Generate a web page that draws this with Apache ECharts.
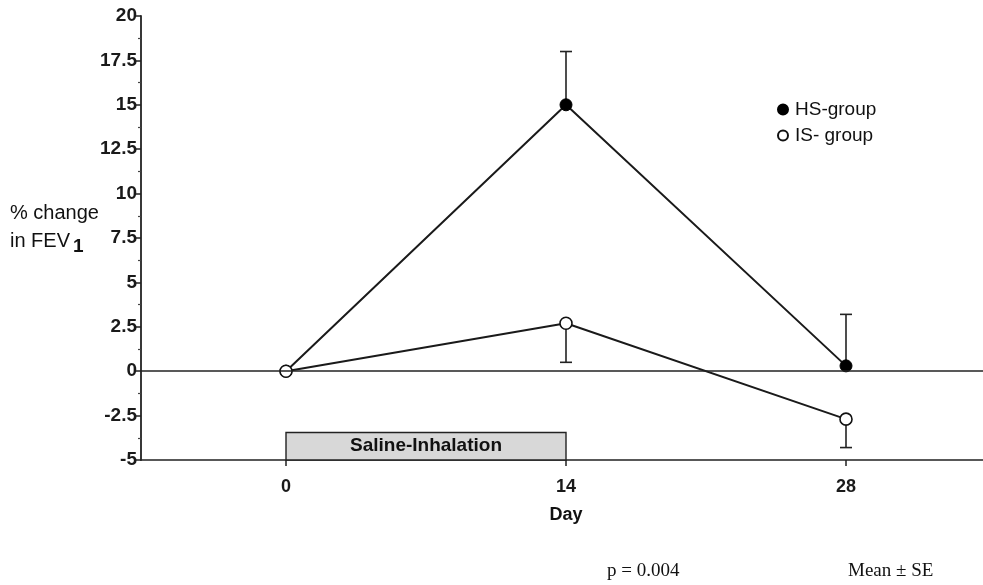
<!DOCTYPE html>
<html>
<head>
<meta charset="utf-8">
<script src="https://cdn.jsdelivr.net/npm/echarts@6/dist/echarts.min.js"></script>
<style>html,body{margin:0;padding:0;background:#fff}#c{width:983px;height:585px}</style>
</head>
<body>
<div id="c"></div>
<script>
var days = [0, 14, 28];
var dayTicks = [0, 14, 28];
var hsMean = [0, 15, 0.3];
var hsSE = [0, 3.0, 2.9];
var isMean = [0, 2.7, -2.7];
var isSE = [0, 2.2, 1.6];
var salineStart = 0, salineEnd = 14, salineTop = -3.45, salineBottom = -5;

var chart = echarts.init(document.getElementById('c'));
var font = 'Liberation Sans, Arial, sans-serif';
var serif = 'Liberation Serif, Times New Roman, serif';

function pairs(xs, ys) { return xs.map(function (x, i) { return [x, ys[i]]; }); }
function errData(xs, m, se, dir) {
  var out = [];
  xs.forEach(function (x, i) { if (se[i] > 0) out.push([x, m[i], m[i] + dir * se[i]]); });
  return out;
}
function errRender(params, api) {
  var x = api.value(0), y = api.value(1), e = api.value(2);
  var p0 = api.coord([x, y]), p1 = api.coord([x, e]);
  var style = { stroke: '#222', lineWidth: 1.6 };
  return {
    type: 'group',
    children: [
      { type: 'line', shape: { x1: p0[0], y1: p0[1], x2: p1[0], y2: p1[1] }, style: style },
      { type: 'line', shape: { x1: p1[0] - 6, y1: p1[1], x2: p1[0] + 6, y2: p1[1] }, style: style }
    ]
  };
}

chart.setOption({
  animation: false,
  backgroundColor: '#fff',
  grid: { left: 141, right: 0, top: 16, bottom: 125 },
  xAxis: {
    type: 'value', min: -7.25, max: 34.85,
    name: 'Day', nameLocation: 'middle', nameGap: 46,
    nameTextStyle: { fontFamily: font, fontSize: 18, fontWeight: 'bold', color: '#111', padding: [0, 0, 0, 8] },
    axisLine: { show: true, onZero: false, lineStyle: { color: '#222', width: 1.6 } },
    axisTick: { show: true, customValues: dayTicks, length: 6, lineStyle: { color: '#222', width: 1.5 } },
    axisLabel: { customValues: dayTicks, fontFamily: font, fontSize: 18, fontWeight: 'bold', color: '#1a1a1a', margin: 18 },
    splitLine: { show: false }
  },
  yAxis: {
    type: 'value', min: -5, max: 20, interval: 2.5,
    axisLine: { show: true, onZero: false, lineStyle: { color: '#222', width: 1.8 } },
    axisTick: { show: true, length: 5, lineStyle: { color: '#222', width: 1.5 } },
    minorTick: { show: true, splitNumber: 2, length: 3, lineStyle: { color: '#444', width: 1.2 } },
    axisLabel: { fontFamily: font, fontSize: 19, fontWeight: 'bold', color: '#1a1a1a', margin: 4 },
    splitLine: { show: false }
  },
  legend: {
    orient: 'vertical', left: 772, top: 95, itemGap: 7, itemWidth: 10, itemHeight: 10,
    textStyle: { fontFamily: font, fontSize: 19, color: '#111', padding: [0, 0, 0, 2] },
    data: [{ name: 'HS-group', icon: 'circle' }, { name: 'IS- group', icon: 'circle' }]
  },
  series: [
    {
      type: 'line', name: 'zero', data: [], silent: true,
      markLine: { silent: true, symbol: 'none', label: { show: false },
        lineStyle: { color: '#222', width: 1.6, type: 'solid' }, data: [{ yAxis: 0 }] },
      markArea: { silent: true,
        itemStyle: { color: '#d8d8d8', borderColor: '#222', borderWidth: 1.4 },
        label: { show: true, position: 'inside', formatter: 'Saline-Inhalation', fontFamily: font, fontSize: 19, fontWeight: 'bold', color: '#111' },
        data: [[{ coord: [salineStart, salineTop] }, { coord: [salineEnd, salineBottom] }]] }
    },
    {
      type: 'custom', name: 'hsErr', renderItem: errRender, data: errData(days, hsMean, hsSE, 1), z: 1,
      encode: { x: 0, y: [1, 2] }
    },
    {
      type: 'custom', name: 'isErr', renderItem: errRender, data: errData(days, isMean, isSE, -1), z: 1,
      encode: { x: 0, y: [1, 2] }
    },
    {
      type: 'line', name: 'HS-group', data: pairs(days, hsMean), symbol: 'circle', symbolSize: 12, z: 3,
      lineStyle: { color: '#1a1a1a', width: 2 },
      itemStyle: { color: '#000', borderColor: '#000', borderWidth: 1 }
    },
    {
      type: 'line', name: 'IS- group', data: pairs(days, isMean), symbol: 'circle', symbolSize: 12, z: 4,
      lineStyle: { color: '#1a1a1a', width: 2 },
      itemStyle: { color: '#fff', borderColor: '#111', borderWidth: 1.6 }
    }
  ],
  graphic: [
    { type: 'text', left: 10, top: 199, style: {
      text: '% change\n{n|in FEV}{s|1}', fontFamily: font, fontSize: 20, fill: '#111', lineHeight: 28,
      rich: { n: { fontFamily: font, fontSize: 20, fill: '#111' },
              s: { fontFamily: font, fontSize: 19, fontWeight: 'bold', fill: '#111', padding: [12, 0, 0, 3] } } } },
    { type: 'text', left: 607, top: 562, style: { text: 'p = 0.004', fontFamily: serif, fontSize: 19, fill: '#111' } },
    { type: 'text', left: 848, top: 562, style: { text: 'Mean \u00b1 SE', fontFamily: serif, fontSize: 19, fill: '#111' } }
  ]
});
</script>
</body>
</html>
